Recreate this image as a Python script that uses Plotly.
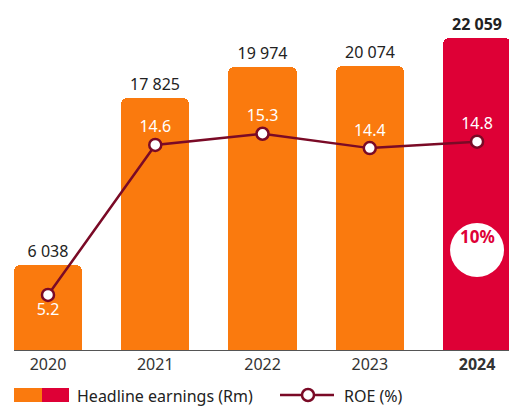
import plotly.graph_objects as go

# Datos
years = ["2020", "2021", "2022", "2023", "2024"]
headline_earnings = [6038, 17825, 19974, 20074, 22059]
roe = [5.2, 14.6, 15.3, 14.4, 14.8]
growth_label = "10%"

ORANGE = "#FA7A0E"
RED = "#DE0036"
MAROON = "#7A0A26"
TEXT = "#222222"
FONT = "Noto Sans"

bar_colors = [ORANGE] * 4 + [RED]
bar_text = [f"{v:,}".replace(",", " ") for v in headline_earnings]
bar_text[-1] = f"<b>{bar_text[-1]}</b>"
tick_text = years[:-1] + [f"<b>{years[-1]}</b>"]
roe_pos = ["bottom center"] + ["top center"] * 4

fig = go.Figure()

fig.add_trace(go.Bar(
    x=list(range(len(years))),
    y=headline_earnings,
    marker=dict(color=bar_colors, cornerradius=6, line=dict(width=0)),
    width=0.635,
    text=bar_text,
    textposition="outside",
    textfont=dict(family=FONT, size=16, color=TEXT),
    cliponaxis=False,
    hoverinfo="skip",
))

fig.add_trace(go.Scatter(
    x=list(range(len(years))),
    y=roe,
    yaxis="y2",
    mode="lines+markers+text",
    line=dict(color=MAROON, width=2.5),
    marker=dict(size=12, color="white", line=dict(color=MAROON, width=2.5)),
    text=[f"{v:.1f}" for v in roe],
    textposition=roe_pos,
    textfont=dict(family=FONT, size=16, color="white"),
    cliponaxis=False,
    hoverinfo="skip",
))

# Circulo "10%" sobre la barra de 2024
fig.add_shape(
    type="circle", xref="x", yref="paper",
    xsizemode="pixel", ysizemode="pixel",
    xanchor=4, yanchor=(350 - 250) / 312,
    x0=-27, x1=27, y0=-27, y1=27,
    fillcolor="white", line=dict(width=0), layer="above",
)
fig.add_annotation(
    x=4, y=(350 - 250) / 312, xref="x", yref="paper",
    text=f"<b>{growth_label}</b>", showarrow=False,
    font=dict(family=FONT, size=17, color=RED),
)

# Leyenda manual
def px_x(p):
    return (p - 14) / 495

def px_y(p):
    return (350 - p) / 312

fig.add_shape(type="rect", xref="paper", yref="paper",
              x0=px_x(14), x1=px_x(42), y0=px_y(388), y1=px_y(402),
              fillcolor=ORANGE, line=dict(width=0))
fig.add_shape(type="rect", xref="paper", yref="paper",
              x0=px_x(42), x1=px_x(69), y0=px_y(388), y1=px_y(402),
              fillcolor=RED, line=dict(width=0))
fig.add_annotation(x=px_x(75), y=px_y(396), xref="paper", yref="paper",
                   xanchor="left", yanchor="middle", showarrow=False,
                   text="Headline earnings (Rm)",
                   font=dict(family=FONT, size=16, color=TEXT))
fig.add_shape(type="line", xref="paper", yref="paper",
              x0=px_x(280), x1=px_x(334), y0=px_y(395), y1=px_y(395),
              line=dict(color=MAROON, width=2.5))
fig.add_shape(type="circle", xref="paper", yref="paper",
              xsizemode="pixel", ysizemode="pixel",
              xanchor=px_x(308), yanchor=px_y(395),
              x0=-6, x1=6, y0=-6, y1=6,
              fillcolor="white", line=dict(color=MAROON, width=2.5))
fig.add_annotation(x=px_x(342), y=px_y(396), xref="paper", yref="paper",
                   xanchor="left", yanchor="middle", showarrow=False,
                   text="ROE (%)",
                   font=dict(family=FONT, size=16, color=TEXT))

fig.update_layout(
    width=509, height=407,
    margin=dict(l=14, r=0, t=38, b=57),
    plot_bgcolor="white", paper_bgcolor="white",
    showlegend=False,
    bargap=0,
    font=dict(family=FONT, color=TEXT),
    xaxis=dict(
        range=[-0.317, 4.298],
        tickvals=list(range(len(years))),
        ticktext=tick_text,
        tickfont=dict(family=FONT, size=16, color="#333333"),
        showgrid=False, zeroline=False,
        showline=True, linecolor="#555555", linewidth=1,
        ticks="", ticklen=0,
    ),
    yaxis=dict(range=[0, 22059], visible=False, showgrid=False, zeroline=False),
    yaxis2=dict(range=[1.75, 21.3], overlaying="y", visible=False,
                showgrid=False, zeroline=False),
)

# quitar el margen del body para que la figura quede en (0, 0)
fig.write_html("out.html", config={"displayModeBar": False},
               post_script="document.body.style.margin='0';")
